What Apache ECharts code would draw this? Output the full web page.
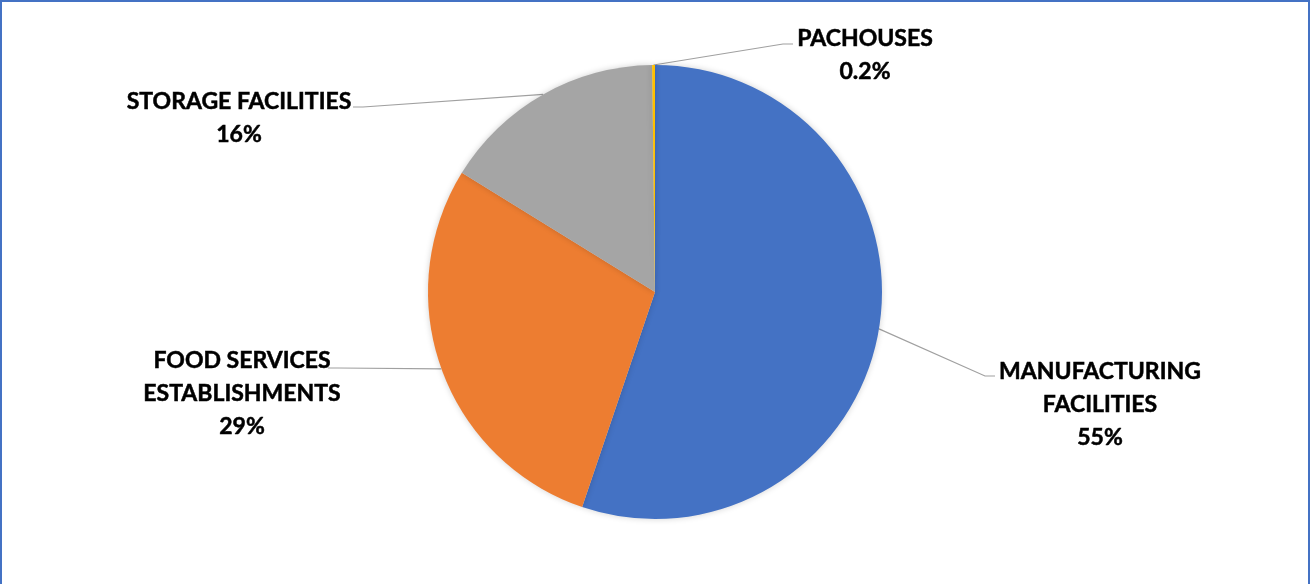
<!DOCTYPE html>
<html>
<head>
<meta charset="utf-8">
<script src="https://cdn.jsdelivr.net/npm/echarts@6/dist/echarts.min.js"></script>
<style>
  html, body { margin: 0; padding: 0; background: #fff; }
  #main-chart {
    width: 1306px; height: 582px;
    border-top: 2px solid #4472c4;
    border-left: 2px solid #4472c4;
    border-right: 2px solid #4472c4;
  }
</style>
</head>
<body>
<div id="main-chart"></div>
<script>
// カテゴリと値（扇の角度から読んだ割合、ラベルは丸めて表示）
const categories = ['MANUFACTURING\nFACILITIES', 'FOOD SERVICES\nESTABLISHMENTS', 'STORAGE FACILITIES', 'PACHOUSES'];
const shares = [55.2, 28.6, 16.0, 0.2];
const colors = ['#4472c4', '#ed7d31', '#a5a5a5', '#ffc000'];

const chart = echarts.init(document.getElementById('main-chart'));

// ラベルの置き場所と引き出し線の付け根（Excel の手動配置に合わせる）
const labelSpots = [
    { x: 1098, y: 353, tip: [993, 374], dir: -1 },
    { x: 240, y: 342, tip: [326, 366], dir: 1 },
    { x: 237, y: 83, tip: [351, 105], dir: 1 },
    { x: 863, y: 20, tip: [791, 42], dir: -1 }
];

const pctText = v => (v < 1 ? v.toFixed(1) : Math.round(v)) + '%';

const option = {
    animation: false,
    series: [{
        type: 'pie',
        center: [653, 290],
        radius: 227,
        startAngle: 90,
        clockwise: true,
        data: categories.map((c, i) => ({ name: c, value: shares[i], itemStyle: { color: colors[i] } })),
        itemStyle: {
            shadowBlur: 6,
            shadowColor: 'rgba(0,0,0,0.18)'
        },
        label: {
            show: true,
            formatter: p => p.name + '\n' + pctText(p.value),
            fontFamily: 'Lato',
            fontWeight: 'bold',
            fontSize: 23,
            lineHeight: 33,
            color: '#000',
            textBorderColor: '#000',
            textBorderWidth: 0.5,
            align: 'center'
        },
        labelLine: {
            show: true,
            length: 20,
            length2: 10,
            lineStyle: { color: '#a0a0a0', width: 1.2 }
        },
        labelLayout: p => {
            const s = labelSpots[p.dataIndex];
            const start = p.labelLinePoints ? p.labelLinePoints[0] : s.tip;
            return {
                x: s.x,
                y: s.y,
                align: 'center',
                verticalAlign: 'top',
                labelLinePoints: [start, [s.tip[0] + s.dir * 10, s.tip[1]], s.tip]
            };
        }
    }]
};

chart.setOption(option);
</script>
</body>
</html>
